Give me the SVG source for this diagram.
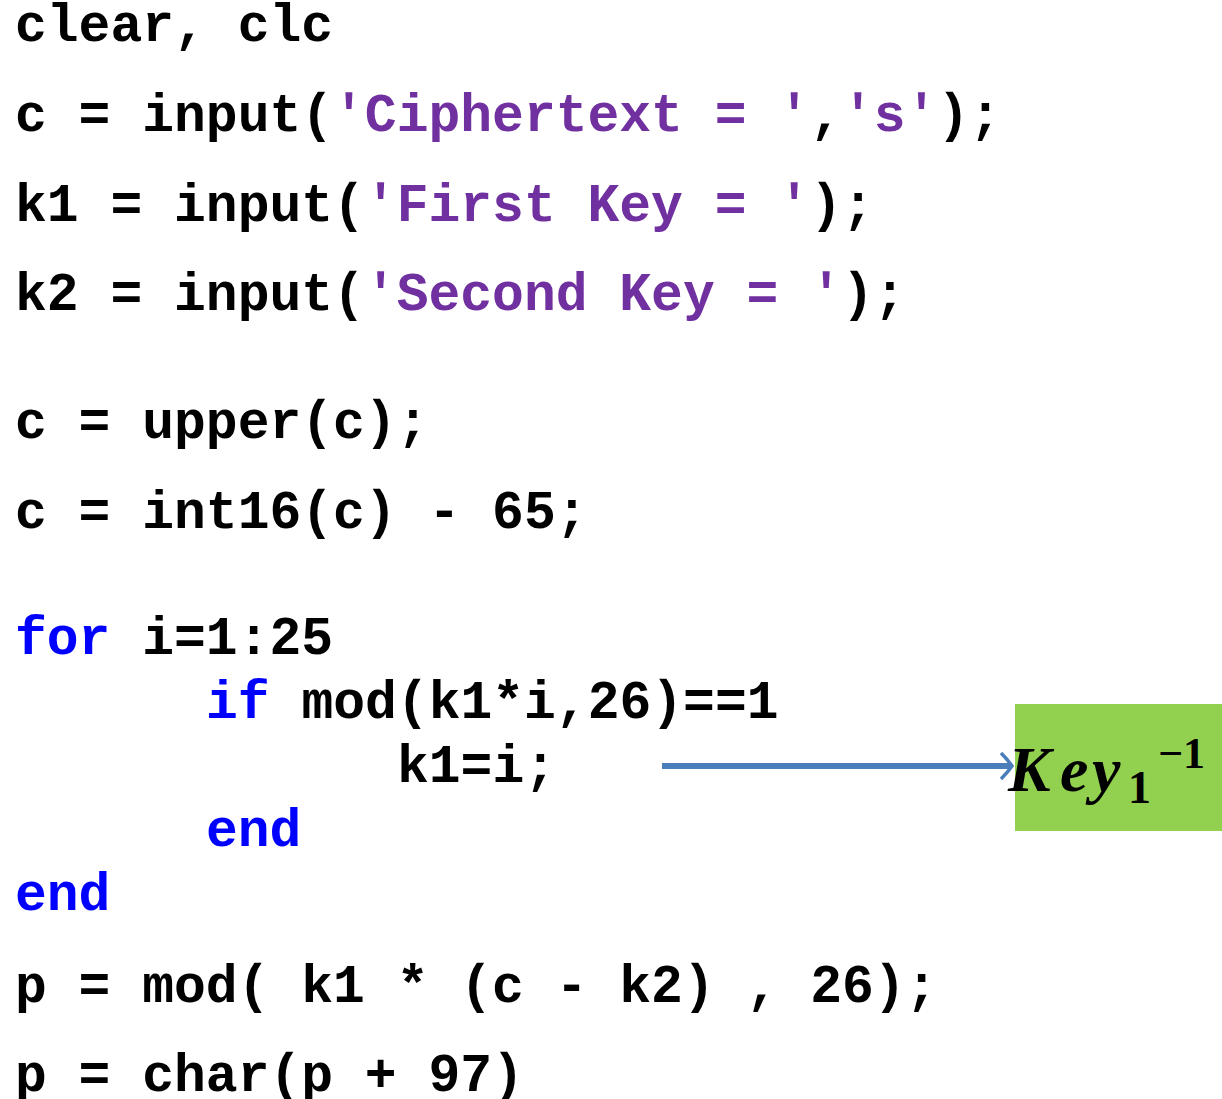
<svg xmlns="http://www.w3.org/2000/svg" width="1222" height="1099" viewBox="0 0 1222 1099">
<style>
.code{font-family:"Liberation Mono","Courier New",monospace;font-weight:bold;font-size:53px;fill:#000;white-space:pre}
.str{fill:#7030A0}
.kw{fill:#0000FF}
.key{font-family:"Liberation Serif","Times New Roman",serif;font-weight:bold;font-style:italic;fill:#000}
</style>
<defs>
<marker id="chev" markerWidth="16" markerHeight="30" refX="13" refY="15" orient="auto" markerUnits="userSpaceOnUse">
<path d="M2,2 Q9,9 13,15 Q9,21 2,28" fill="none" stroke="#4A7EBB" stroke-width="3.5"/>
</marker>
</defs>
<rect width="1222" height="1099" fill="#fff"/>
<g id="code" xml:space="preserve">
<text class="code" x="15" y="41">clear, clc</text>
<text class="code" x="15" y="131">c = input(<tspan class="str">'Ciphertext = '</tspan>,<tspan class="str">'s'</tspan>);</text>
<text class="code" x="15" y="221">k1 = input(<tspan class="str">'First Key = '</tspan>);</text>
<text class="code" x="15" y="310">k2 = input(<tspan class="str">'Second Key = '</tspan>);</text>
<text class="code" x="15" y="438">c = upper(c);</text>
<text class="code" x="15" y="528">c = int16(c) - 65;</text>
<text class="code" x="15" y="654"><tspan class="kw">for</tspan> i=1:25</text>
<text class="code" x="206" y="718"><tspan class="kw">if</tspan> mod(k1*i,26)==1</text>
<text class="code" x="397" y="782">k1=i;</text>
<text class="code" x="206" y="846"><tspan class="kw">end</tspan></text>
<text class="code" x="15" y="910"><tspan class="kw">end</tspan></text>
<text class="code" x="15" y="1002">p = mod( k1 * (c - k2) , 26);</text>
<text class="code" x="15" y="1091">p = char(p + 97)</text>
</g>
<g id="key-node">
<rect x="1015" y="704" width="207" height="127" fill="#92D050"/>
<text class="key" y="791" font-size="64"><tspan x="1008">K</tspan><tspan x="1060">e</tspan><tspan x="1092">y</tspan><tspan x="1128" y="803" font-size="46" font-style="normal">1</tspan><tspan x="1158" y="768" font-size="44" font-style="normal">−1</tspan></text>
</g>
<g id="connectors">
<line x1="662" y1="766" x2="1012" y2="766" stroke="#4A7EBB" stroke-width="6" marker-end="url(#chev)"/>
</g>
</svg>
